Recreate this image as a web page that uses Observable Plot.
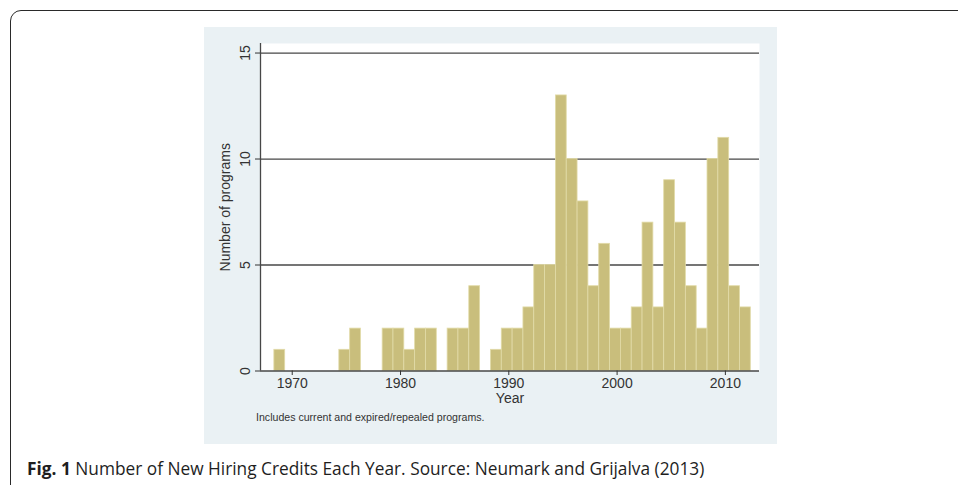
<!DOCTYPE html>
<html><head><meta charset="utf-8">
<script src="https://cdn.jsdelivr.net/npm/d3@7"></script>
<script src="https://cdn.jsdelivr.net/npm/@observablehq/plot@0.6"></script>
<style>
html,body{margin:0;padding:0;background:#fff;}
body{width:958px;height:485px;overflow:hidden;position:relative;font-family:"Liberation Sans",Arial,sans-serif;}
#frame{position:absolute;left:10px;top:10px;width:990px;height:520px;border:1.5px solid #2a2a2a;border-radius:11px;box-sizing:border-box;}
#panel{position:absolute;left:204px;top:27px;width:573px;height:417px;background:#eaf1f4;}
#chart{position:absolute;left:0;top:0;}
#chart svg text{font-size:14px !important;}
#note{position:absolute;left:52px;top:384px;font-size:10.6px;color:#333;white-space:nowrap;}
#caption{position:absolute;left:27px;top:460px;line-height:1;font-family:"Open Sans",sans-serif;font-size:17.3px;color:#1e1e1e;white-space:nowrap;}
#caption b{font-weight:700;}
</style>
</head><body>
<div id="frame"></div>
<div id="panel"><div id="chart"></div><div id="note">Includes current and expired/repealed programs.</div></div>
<div id="caption"><b>Fig. 1</b> Number of New Hiring Credits Each Year. Source: Neumark and Grijalva (2013)</div>
<script>
const years = [1969,1970,1971,1972,1973,1974,1975,1976,1977,1978,1979,1980,1981,1982,1983,1984,1985,1986,1987,1988,1989,1990,1991,1992,1993,1994,1995,1996,1997,1998,1999,2000,2001,2002,2003,2004,2005,2006,2007,2008,2009,2010,2011,2012];
const counts = [1,0,0,0,0,0,1,2,0,0,2,2,1,2,2,0,2,2,4,0,1,2,2,3,5,5,13,10,8,4,6,2,2,3,7,3,9,7,4,2,10,11,4,3];
const xTicks = [1970,1980,1990,2000,2010];
const yTicks = [0,5,10,15];
const xDomain = [1967.07, 2013.15];
const yDomain = [0, 15.45];

const data = years.map((y,i)=>({year:y, count:counts[i]})).filter(d=>d.count>0);

const barColor = "#c9be7c";
const chart = Plot.plot({
  width: 573, height: 417,
  marginLeft: 56, marginRight: 18, marginTop: 16, marginBottom: 73.5,
  style:{background:"transparent", color:"#333", fontFamily:"'Liberation Sans', Arial, sans-serif", fontSize:"14px"},
  x:{domain:xDomain},
  y:{domain:yDomain},
  marks:[
    Plot.frame({fill:"white", stroke:null}),
    Plot.ruleY(yTicks.filter(t=>t>0), {stroke:"#474747", strokeWidth:1.3}),
    Plot.rect(data, {x1:d=>d.year-0.65, x2:d=>d.year+0.35, y1:0, y2:"count", fill:barColor, stroke:"#e2dba8", strokeWidth:0.8}),
    Plot.ruleY([0], {stroke:"#474747", strokeWidth:1.3}),
    Plot.ruleX([xDomain[0]], {stroke:"#474747", strokeWidth:1.3}),
    Plot.axisX({ticks:xTicks, tickFormat:d=>String(d), tickSize:4.5, tickPadding:3, fontSize:14, label:"Year", labelAnchor:"center", labelOffset:32, labelArrow:"none"}),
    Plot.axisY({ticks:yTicks, tickSize:5, tickPadding:6, tickRotate:-90, fontSize:14, label:"Number of programs", labelAnchor:"center", labelOffset:40, labelArrow:"none"})
  ]
});
document.getElementById("chart").appendChild(chart);
</script>
</body></html>
